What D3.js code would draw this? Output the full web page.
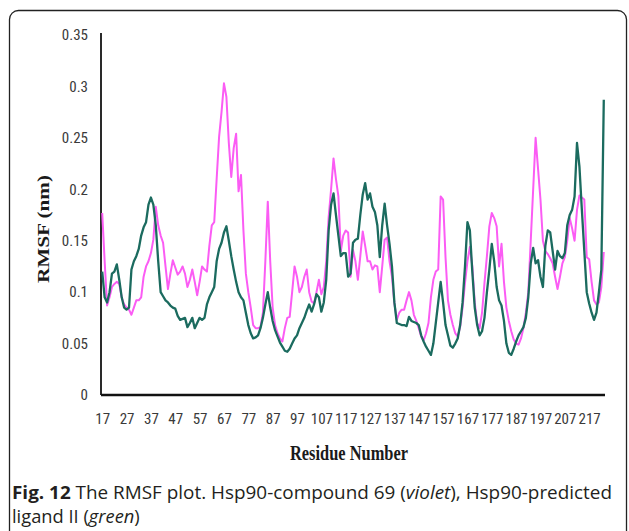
<!DOCTYPE html>
<html>
<head>
<meta charset="utf-8">
<script src="https://cdn.jsdelivr.net/npm/d3@7"></script>
<style>
  html, body { margin: 0; padding: 0; background: #fff; }
  svg { display: block; }
</style>
</head>
<body>
<svg id="chart" width="629" height="531"></svg>
<script>
// Residue numbers (categories)
const residues = d3.range(17, 224);
// X tick labels
const xTickLabels = d3.range(17, 218, 10);
// Y tick values
const yTickValues = [0, 0.05, 0.1, 0.15, 0.2, 0.25, 0.3, 0.35];

// Hsp90-compound 69 (violet)
const violet = [
  0.177, 0.13, 0.087, 0.095, 0.105, 0.108, 0.110, 0.108, 0.095, 0.088,
  0.085, 0.083, 0.078, 0.085, 0.092, 0.092, 0.095, 0.115, 0.125, 0.13,
  0.138, 0.151, 0.183, 0.165, 0.155, 0.148, 0.125, 0.103, 0.118, 0.131,
  0.124, 0.117, 0.12, 0.125, 0.118, 0.105, 0.112, 0.122, 0.11, 0.097,
  0.11, 0.125, 0.122, 0.12, 0.145, 0.165, 0.168, 0.21, 0.251, 0.275,
  0.303, 0.29, 0.245, 0.212, 0.24, 0.254, 0.198, 0.214, 0.16, 0.118,
  0.1, 0.085, 0.068, 0.065, 0.065, 0.066, 0.08, 0.13, 0.188, 0.13,
  0.085, 0.068, 0.06, 0.055, 0.052, 0.065, 0.075, 0.076, 0.1, 0.125,
  0.115, 0.1, 0.105, 0.115, 0.122, 0.1, 0.091, 0.089, 0.1, 0.112,
  0.098, 0.105, 0.13, 0.173, 0.2, 0.23, 0.21, 0.193, 0.14, 0.155,
  0.16, 0.158, 0.115, 0.141, 0.13, 0.112, 0.135, 0.159, 0.145, 0.13,
  0.13, 0.122, 0.126, 0.125, 0.1, 0.125, 0.151, 0.153, 0.13, 0.115,
  0.089, 0.073, 0.08, 0.083, 0.083, 0.092, 0.1, 0.092, 0.078, 0.072,
  0.065, 0.057, 0.053, 0.06, 0.07, 0.095, 0.112, 0.12, 0.122, 0.193,
  0.19, 0.134, 0.092, 0.078, 0.068, 0.06, 0.057, 0.066, 0.085, 0.109,
  0.13, 0.144, 0.125, 0.09, 0.07, 0.065, 0.08, 0.109, 0.135, 0.164,
  0.177, 0.172, 0.164, 0.125, 0.147, 0.11, 0.085, 0.072, 0.062, 0.054,
  0.05, 0.049, 0.055, 0.065, 0.08, 0.1, 0.15, 0.2, 0.25, 0.22,
  0.19, 0.15, 0.14, 0.137, 0.133, 0.128, 0.115, 0.103, 0.115, 0.128,
  0.134, 0.15, 0.172, 0.162, 0.15, 0.18, 0.194, 0.192, 0.19, 0.134,
  0.132, 0.11, 0.092, 0.088, 0.09, 0.105, 0.139
];

// Hsp90-predicted ligand II (green)
const green = [
  0.12, 0.095, 0.09, 0.1, 0.118, 0.12, 0.127, 0.112, 0.095, 0.085,
  0.083, 0.085, 0.122, 0.13, 0.135, 0.142, 0.155, 0.163, 0.168, 0.185,
  0.192, 0.185, 0.165, 0.13, 0.1, 0.096, 0.092, 0.09, 0.087, 0.085,
  0.084, 0.077, 0.073, 0.074, 0.075, 0.066, 0.07, 0.075, 0.065, 0.07,
  0.075, 0.073, 0.075, 0.088, 0.095, 0.1, 0.105, 0.13, 0.142, 0.148,
  0.158, 0.164, 0.15, 0.135, 0.122, 0.11, 0.1, 0.095, 0.092, 0.08,
  0.068, 0.06, 0.055, 0.056, 0.058, 0.065, 0.075, 0.088, 0.1, 0.085,
  0.072, 0.063, 0.057, 0.051, 0.047, 0.043, 0.042, 0.045, 0.05, 0.055,
  0.058, 0.065, 0.07, 0.075, 0.082, 0.088, 0.081, 0.088, 0.098, 0.095,
  0.081, 0.09, 0.112, 0.16, 0.185, 0.196, 0.175, 0.155, 0.135, 0.138,
  0.138, 0.115, 0.118, 0.148, 0.151, 0.152, 0.175, 0.195, 0.206, 0.19,
  0.196, 0.183, 0.178, 0.165, 0.134, 0.165, 0.186, 0.165, 0.147, 0.125,
  0.09, 0.07, 0.069, 0.068, 0.068, 0.067, 0.076, 0.072, 0.071, 0.07,
  0.068, 0.058, 0.052, 0.047, 0.043, 0.039, 0.05, 0.07, 0.09, 0.11,
  0.09, 0.068, 0.058, 0.048, 0.046, 0.05, 0.055, 0.068, 0.09, 0.125,
  0.168, 0.16, 0.12, 0.085, 0.068, 0.058, 0.062, 0.075, 0.1, 0.122,
  0.147, 0.13, 0.105, 0.092, 0.087, 0.072, 0.05, 0.041, 0.039, 0.045,
  0.052, 0.058, 0.062, 0.066, 0.075, 0.095, 0.128, 0.143, 0.128, 0.131,
  0.115, 0.105, 0.145, 0.16, 0.158, 0.14, 0.122, 0.14, 0.135, 0.133,
  0.138, 0.165, 0.175, 0.18, 0.193, 0.245, 0.222, 0.18, 0.14, 0.1,
  0.089, 0.08, 0.073, 0.08, 0.1, 0.122, 0.287
];

const svg = d3.select("#chart");

// Outer frame (rounded panel)
svg.append("rect")
  .attr("x", 9.5).attr("y", 10.5)
  .attr("width", 617).attr("height", 560)
  .attr("rx", 9).attr("ry", 9)
  .attr("fill", "none")
  .attr("stroke", "#222")
  .attr("stroke-width", 1.3);

const plot = { left: 101, right: 605, top: 35, bottom: 395 };

const x = d3.scalePoint()
  .domain(residues)
  .range([plot.left, plot.right])
  .padding(0.5);

const y = d3.scaleLinear()
  .domain([0, 0.35])
  .range([plot.bottom, plot.top]);

const tickFont = "'Liberation Sans Narrow', 'Arial Narrow', 'Roboto Condensed', sans-serif";

// Y axis
const yAxis = svg.append("g")
  .attr("transform", `translate(${plot.left},0)`)
  .call(d3.axisLeft(y)
    .tickValues(yTickValues)
    .tickSize(0)
    .tickPadding(13)
    .tickFormat(d => d === 0 ? "0" : String(+d.toFixed(2))));
yAxis.select(".domain")
  .attr("d", `M0,${y(0.35) - 2}V${plot.bottom}`)
  .attr("stroke", "#2a2a2a")
  .attr("stroke-width", 2);
yAxis.selectAll("text")
  .attr("font-family", tickFont)
  .attr("font-size", 15)
  .attr("fill", "#3a3a3a");

// X axis
const xAxis = svg.append("g")
  .attr("transform", `translate(0,${plot.bottom})`)
  .call(d3.axisBottom(x)
    .tickValues(xTickLabels)
    .tickSize(0)
    .tickPadding(18));
xAxis.select(".domain")
  .attr("d", `M${plot.left},0H${plot.right}`)
  .attr("stroke", "#111")
  .attr("stroke-width", 2.6);
xAxis.selectAll("text")
  .attr("font-family", tickFont)
  .attr("font-size", 15)
  .attr("fill", "#3a3a3a");

// Lines
const line = d3.line()
  .x((d, i) => x(residues[i]))
  .y(d => y(d));

svg.append("path")
  .datum(violet)
  .attr("d", line)
  .attr("fill", "none")
  .attr("stroke", "#fb5cf4")
  .attr("stroke-width", 2)
  .attr("stroke-linejoin", "round");

svg.append("path")
  .datum(green)
  .attr("d", line)
  .attr("fill", "none")
  .attr("stroke", "#1b6b5f")
  .attr("stroke-width", 2.3)
  .attr("stroke-linejoin", "round");

// Axis titles
svg.append("text")
  .attr("transform", "translate(49,229) rotate(-90)")
  .attr("text-anchor", "middle")
  .attr("font-family", "'Liberation Serif', 'Times New Roman', serif")
  .attr("font-weight", "bold")
  .attr("font-size", 16)
  .attr("textLength", 108)
  .attr("lengthAdjust", "spacingAndGlyphs")
  .attr("fill", "#1a1a1a")
  .text("RMSF (nm)");

svg.append("text")
  .attr("x", 349).attr("y", 460)
  .attr("text-anchor", "middle")
  .attr("font-family", "'Liberation Serif', 'Times New Roman', serif")
  .attr("font-weight", "bold")
  .attr("font-size", 20)
  .attr("textLength", 118)
  .attr("lengthAdjust", "spacingAndGlyphs")
  .attr("fill", "#1a1a1a")
  .text("Residue Number");

// Caption
const capFont = "'Open Sans', 'Noto Sans', sans-serif";
const cap1 = svg.append("text")
  .attr("x", 12).attr("y", 499)
  .attr("font-family", capFont)
  .attr("font-size", 18.3)
  .attr("textLength", 600)
  .attr("lengthAdjust", "spacingAndGlyphs")
  .attr("fill", "#231f20");
cap1.append("tspan").attr("font-weight", "bold").text("Fig. 12");
cap1.append("tspan").text(" The RMSF plot. Hsp90-compound 69 (");
cap1.append("tspan").attr("font-style", "italic").text("violet");
cap1.append("tspan").text("), Hsp90-predicted");

const cap2 = svg.append("text")
  .attr("x", 12).attr("y", 523)
  .attr("font-family", capFont)
  .attr("font-size", 18.3)
  .attr("fill", "#231f20");
cap2.append("tspan").text("ligand II (");
cap2.append("tspan").attr("font-style", "italic").text("green");
cap2.append("tspan").text(")");
</script>
</body>
</html>
